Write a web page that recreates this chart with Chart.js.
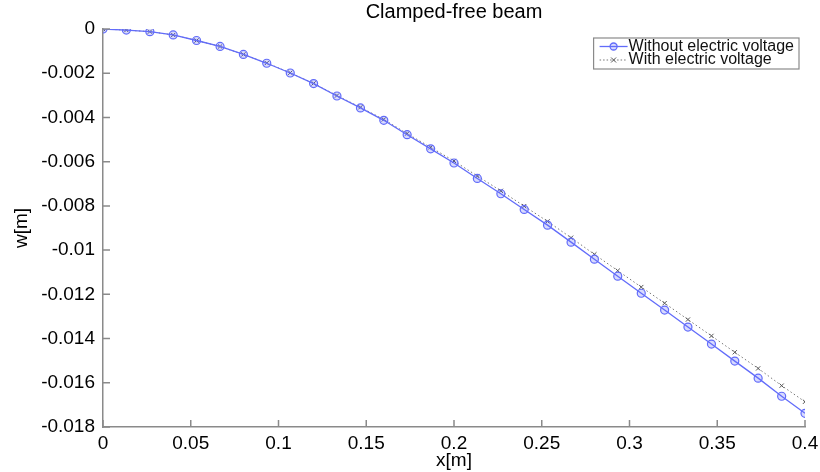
<!DOCTYPE html>
<html>
<head>
<meta charset="utf-8">
<script src="https://cdn.jsdelivr.net/npm/chart.js@4.4.0/dist/chart.umd.min.js"></script>
<style>
  body { margin: 0; background: #fff; }
  #wrap { width: 820px; height: 472px; }
</style>
</head>
<body>
<div id="wrap"><canvas id="beamChart" width="820" height="472"></canvas></div>
<script>
// positions along the beam [m]
const xPositions = [0, 0.0133, 0.0267, 0.04, 0.0533, 0.0667, 0.08, 0.0933, 0.1067, 0.12,
    0.1333, 0.1467, 0.16, 0.1733, 0.1867, 0.2, 0.2133, 0.2267, 0.24, 0.2533,
    0.2667, 0.28, 0.2933, 0.3067, 0.32, 0.3333, 0.3467, 0.36, 0.3733, 0.3867, 0.4];

// deflection without voltage [m]
const wWithout = [0, -0.00005, -0.00012, -0.00027, -0.00052, -0.00079, -0.00115, -0.00155, -0.00199, -0.00247,
    -0.00303, -0.00357, -0.00413, -0.00478, -0.00542, -0.00606, -0.00676, -0.00745, -0.00816, -0.00887,
    -0.00964, -0.01041, -0.01118, -0.01195, -0.01271, -0.01348, -0.01425, -0.01502, -0.01579, -0.01661, -0.01738];

// deflection with voltage [m]
const wWith = [0, -0.00005, -0.00012, -0.00027, -0.00052, -0.00079, -0.00115, -0.00154, -0.00198, -0.00246,
    -0.00301, -0.00354, -0.00409, -0.00473, -0.00535, -0.00597, -0.00665, -0.00732, -0.00801, -0.00870,
    -0.00944, -0.01019, -0.01093, -0.01167, -0.01240, -0.01314, -0.01388, -0.01462, -0.01535, -0.01613, -0.01686];

const seriesNames = ['Without electric voltage', 'With electric voltage'];
const chartTitle = 'Clamped-free beam';

const blue = 'rgb(98,108,250)';
const grayLine = '#8a8a8a';
const FONT = "'Liberation Sans', Arial, Helvetica, sans-serif";

const toPoints = (ys) => xPositions.map((x, i) => ({ x: x, y: ys[i] }));

// ticks drawn inside the plot, like matlab
const innerTicks = {
    id: 'innerTicks',
    afterDraw(chart) {
        const ctx = chart.ctx;
        const area = chart.chartArea;
        const xs = chart.scales.x;
        const ys = chart.scales.y;
        ctx.save();
        ctx.strokeStyle = grayLine;
        ctx.lineWidth = 1.5;
        ctx.beginPath();
        ys.ticks.forEach(t => {
            const py = ys.getPixelForValue(t.value);
            ctx.moveTo(area.left, py);
            ctx.lineTo(area.left + 7, py);
        });
        xs.ticks.forEach(t => {
            const px = xs.getPixelForValue(t.value);
            ctx.moveTo(px, area.bottom);
            ctx.lineTo(px, area.bottom - 7);
        });
        ctx.stroke();
        ctx.restore();
    }
};

// boxed legend in the top right corner of the axes
const boxLegend = {
    id: 'boxLegend',
    afterDraw(chart) {
        const ctx = chart.ctx;
        const area = chart.chartArea;
        ctx.save();
        ctx.font = '16px ' + FONT;
        const textW = Math.max(...seriesNames.map(s => ctx.measureText(s).width));
        const w = textW + 40;
        const h = 31;
        const right = area.right - 6;
        const left = right - w;
        const top = area.top + 9;
        ctx.fillStyle = '#fff';
        ctx.fillRect(left, top, w, h);
        ctx.strokeStyle = grayLine;
        ctx.lineWidth = 1.2;
        ctx.strokeRect(left, top, w, h);

        const rows = [top + 8.5, top + 22];
        const x0 = left + 6, x1 = left + 34, xm = (x0 + x1) / 2;
        // row 1
        ctx.strokeStyle = blue;
        ctx.lineWidth = 1.3;
        ctx.beginPath();
        ctx.moveTo(x0, rows[0]); ctx.lineTo(x1, rows[0]);
        ctx.stroke();
        ctx.fillStyle = 'rgba(98,108,250,0.25)';
        ctx.beginPath();
        ctx.arc(xm, rows[0], 3.5, 0, Math.PI * 2);
        ctx.fill(); ctx.stroke();
        // row 2
        ctx.strokeStyle = '#777';
        ctx.lineWidth = 1;
        ctx.setLineDash([1.5, 2]);
        ctx.beginPath();
        ctx.moveTo(x0, rows[1]); ctx.lineTo(x1, rows[1]);
        ctx.stroke();
        ctx.setLineDash([]);
        ctx.strokeStyle = '#555';
        ctx.beginPath();
        ctx.moveTo(xm - 2.5, rows[1] - 2.5); ctx.lineTo(xm + 2.5, rows[1] + 2.5);
        ctx.moveTo(xm - 2.5, rows[1] + 2.5); ctx.lineTo(xm + 2.5, rows[1] - 2.5);
        ctx.stroke();

        ctx.fillStyle = '#111';
        ctx.textBaseline = 'middle';
        seriesNames.forEach((s, i) => ctx.fillText(s, x1 + 1, rows[i]));
        ctx.restore();
    }
};

const ctx = document.getElementById('beamChart').getContext('2d');
new Chart(ctx, {
    type: 'line',
    data: {
        datasets: [{
            label: seriesNames[0],
            data: toPoints(wWithout),
            borderColor: blue,
            borderWidth: 1.3,
            pointStyle: 'circle',
            pointRadius: 4,
            pointBorderWidth: 1.2,
            pointBorderColor: blue,
            pointBackgroundColor: 'rgba(98,108,250,0.25)',
            tension: 0,
            order: 1
        }, {
            label: seriesNames[1],
            data: toPoints(wWith),
            borderColor: '#777',
            borderWidth: 1,
            borderDash: [1.5, 2.5],
            pointStyle: 'crossRot',
            pointRadius: 3,
            pointBorderWidth: 1,
            pointBorderColor: '#555',
            tension: 0,
            order: 2
        }]
    },
    options: {
        responsive: false,
        animation: false,
        layout: { padding: { left: 0, right: 15, top: 0, bottom: 0 } },
        plugins: {
            legend: { display: false },
            tooltip: { enabled: false },
            title: {
                display: true,
                text: chartTitle,
                fullSize: false,
                color: '#000',
                font: { family: FONT, size: 20, weight: 'normal', lineHeight: 1.1 },
                padding: { top: 1, bottom: 6 }
            }
        },
        scales: {
            x: {
                type: 'linear',
                min: 0,
                max: 0.4,
                ticks: {
                    stepSize: 0.05,
                    color: '#000',
                    padding: -3,
                    maxRotation: 0,
                    font: { family: FONT, size: 19 },
                    callback: v => String(parseFloat(v.toFixed(3)))
                },
                grid: { display: false },
                border: { color: grayLine, width: 1.5 },
                title: {
                    display: true,
                    text: 'x[m]',
                    color: '#000',
                    font: { family: FONT, size: 19, lineHeight: 1.2 },
                    padding: { top: 0, bottom: 0 }
                },
                afterFit: s => { s.height = 45; }
            },
            y: {
                type: 'linear',
                min: -0.018,
                max: 0,
                ticks: {
                    stepSize: 0.002,
                    color: '#000',
                    padding: 0,
                    font: { family: FONT, size: 19 },
                    callback: v => String(parseFloat(v.toFixed(4)))
                },
                grid: { display: false },
                border: { color: grayLine, width: 1.5 },
                title: {
                    display: true,
                    text: 'w[m]',
                    color: '#000',
                    font: { family: FONT, size: 19, lineHeight: 1.2 },
                    padding: { top: 10, bottom: 0 }
                },
                afterFit: s => { s.width = 103; }
            }
        }
    },
    plugins: [innerTicks, boxLegend]
});
</script>
</body>
</html>
